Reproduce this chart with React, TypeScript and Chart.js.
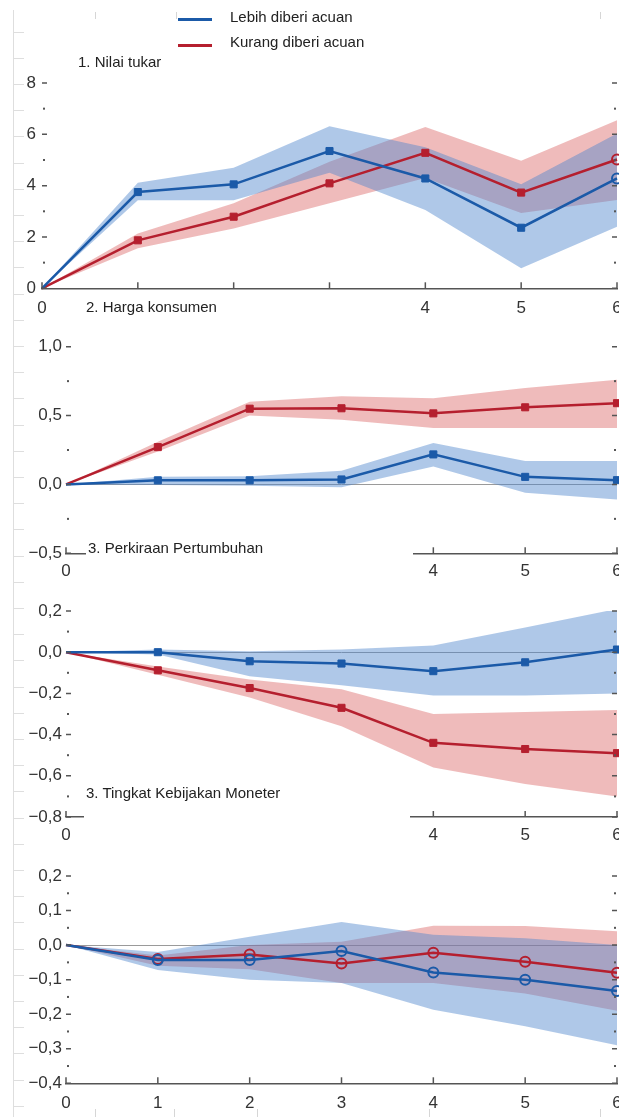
import React, { useEffect, useRef } from 'react';
import { Chart, registerables } from 'chart.js';

Chart.register(...registerables);

// ---------- data ----------
const steps = [0, 1, 2, 3, 4, 5, 6];

// 1. Nilai tukar
const nilaiLebih = [0, 3.75, 4.05, 5.35, 4.28, 2.36, 4.28];
const nilaiLebihHi = [0, 4.11, 4.7, 6.31, 5.5, 4.05, 6.03];
const nilaiLebihLo = [0, 3.43, 3.43, 4.5, 3.05, 0.78, 2.4];
const nilaiKurang = [0, 1.87, 2.79, 4.09, 5.28, 3.73, 5.02];
const nilaiKurangHi = [0, 2.14, 3.31, 4.93, 6.29, 4.97, 6.55];
const nilaiKurangLo = [0, 1.56, 2.33, 3.31, 4.3, 2.93, 3.44];

// 2. Harga konsumen
const hargaLebih = [0, 0.03, 0.03, 0.036, 0.218, 0.055, 0.031];
const hargaLebihHi = [0, 0.055, 0.06, 0.1, 0.3, 0.17, 0.17];
const hargaLebihLo = [0, -0.005, -0.01, -0.02, 0.13, -0.06, -0.11];
const hargaKurang = [0, 0.271, 0.55, 0.553, 0.516, 0.56, 0.59];
const hargaKurangHi = [0, 0.31, 0.6, 0.64, 0.625, 0.7, 0.76];
const hargaKurangLo = [0, 0.24, 0.5, 0.47, 0.41, 0.41, 0.41];

// 3. Perkiraan Pertumbuhan
const tumbuhLebih = [0, 0.0, -0.044, -0.055, -0.092, -0.049, 0.013];
const tumbuhLebihHi = [0, 0.013, 0.005, 0.013, 0.033, 0.12, 0.21];
const tumbuhLebihLo = [0, -0.011, -0.117, -0.16, -0.21, -0.21, -0.2];
const tumbuhKurang = [0, -0.088, -0.174, -0.27, -0.44, -0.47, -0.49];
const tumbuhKurangHi = [0, -0.07, -0.133, -0.18, -0.3, -0.29, -0.28];
const tumbuhKurangLo = [0, -0.11, -0.22, -0.36, -0.56, -0.64, -0.7];

// 3. Tingkat Kebijakan Moneter
const moneterLebih = [0, -0.043, -0.043, -0.017, -0.079, -0.1, -0.133];
const moneterLebihHi = [0, -0.02, 0.024, 0.067, 0.03, 0.02, 0.0];
const moneterLebihLo = [0, -0.072, -0.1, -0.11, -0.187, -0.235, -0.29];
const moneterKurang = [0, -0.04, -0.027, -0.053, -0.022, -0.048, -0.08];
const moneterKurangHi = [0, -0.03, 0.0, 0.01, 0.056, 0.055, 0.04];
const moneterKurangLo = [0, -0.06, -0.07, -0.11, -0.11, -0.14, -0.19];

// tick labels
const xLabelsPartial = ['0', '', '', '', '4', '5', '6'];
const xLabelsFull = ['0', '1', '2', '3', '4', '5', '6'];
const nilaiYTicks = [0, 2, 4, 6, 8];
const hargaYTicks = [-0.5, 0, 0.5, 1.0];
const tumbuhYTicks = [-0.8, -0.6, -0.4, -0.2, 0, 0.2];
const moneterYTicks = [-0.4, -0.3, -0.2, -0.1, 0, 0.1, 0.2];

// markers
const squaresEndCircle = ['none', 'rect', 'rect', 'rect', 'rect', 'rect', 'circle'];
const squaresOnly = ['none', 'rect', 'rect', 'rect', 'rect', 'rect', 'rect'];
const circlesOnly = ['none', 'circle', 'circle', 'circle', 'circle', 'circle', 'circle'];

const legendLabels = ['Lebih diberi acuan', 'Kurang diberi acuan'];
const panelTitles = ['1. Nilai tukar', '2. Harga konsumen', '3. Perkiraan Pertumbuhan', '3. Tingkat Kebijakan Moneter'];

// ---------- styles ----------
const BLUE = '#1b5aa8';
const RED = '#b51f2e';
const BLUE_BAND = 'rgba(78,132,204,0.45)';
const RED_BAND = 'rgba(218,92,92,0.42)';
const AXIS = '#555';
const FONT = "'Liberation Sans', Arial, sans-serif";
const CANVAS_W = 640;
const X_AXIS_H = 40;
const TICK_FONT = 17;

const fmtInt = (v: number) => String(Math.round(v));
const fmtDec = (v: number) => {
  const s = Math.abs(v).toFixed(1).replace('.', ',');
  return v < -1e-9 ? '\u2212' + s : s;
};

type Panel = {
  top: number; height: number; padTop: number; padBottom: number; yWidth: number; yPad: number; xPad: number;
  min: number; max: number; minor: number; majors: number[]; fmt: (v: number) => string;
  xLabels: string[]; zeroLine: boolean; markers: string[];
  lebih: number[]; lebihHi: number[]; lebihLo: number[];
  kurang: number[]; kurangHi: number[]; kurangLo: number[];
};

const panels: Panel[] = [
  { top: 0, height: 335, padTop: 83, padBottom: 6.7, yWidth: 42, yPad: 6, xPad: 2,
    min: 0, max: 8, minor: 1, majors: nilaiYTicks, fmt: fmtInt, xLabels: xLabelsPartial, zeroLine: false,
    markers: squaresEndCircle,
    lebih: nilaiLebih, lebihHi: nilaiLebihHi, lebihLo: nilaiLebihLo,
    kurang: nilaiKurang, kurangHi: nilaiKurangHi, kurangLo: nilaiKurangLo },
  { top: 310, height: 295, padTop: 36.7, padBottom: 11.7, yWidth: 66, yPad: 4, xPad: 0,
    min: -0.5, max: 1.0, minor: 0.25, majors: hargaYTicks, fmt: fmtDec, xLabels: xLabelsPartial, zeroLine: true,
    markers: squaresOnly,
    lebih: hargaLebih, lebihHi: hargaLebihHi, lebihLo: hargaLebihLo,
    kurang: hargaKurang, kurangHi: hargaKurangHi, kurangLo: hargaKurangLo },
  { top: 590, height: 270, padTop: 21, padBottom: 3, yWidth: 66, yPad: 4, xPad: 0,
    min: -0.8, max: 0.2, minor: 0.1, majors: tumbuhYTicks, fmt: fmtDec, xLabels: xLabelsPartial, zeroLine: true,
    markers: squaresOnly,
    lebih: tumbuhLebih, lebihHi: tumbuhLebihHi, lebihLo: tumbuhLebihLo,
    kurang: tumbuhKurang, kurangHi: tumbuhKurangHi, kurangLo: tumbuhKurangLo },
  { top: 850, height: 282, padTop: 26, padBottom: 8.7, yWidth: 66, yPad: 4, xPad: 2,
    min: -0.4, max: 0.2, minor: 0.05, majors: moneterYTicks, fmt: fmtDec, xLabels: xLabelsFull, zeroLine: true,
    markers: circlesOnly,
    lebih: moneterLebih, lebihHi: moneterLebihHi, lebihLo: moneterLebihLo,
    kurang: moneterKurang, kurangHi: moneterKurangHi, kurangLo: moneterKurangLo },
];

const pts = (vals: number[]) => steps.map((s, i) => ({ x: s, y: vals[i] }));

const inwardTicks = {
  id: 'inwardTicks',
  afterDatasetsDraw(chart: any) {
    const { ctx, chartArea: a, scales } = chart;
    const ys = scales.y;
    const xs = scales.x;
    ctx.save();
    ctx.strokeStyle = AXIS;
    ctx.fillStyle = AXIS;
    ys.ticks.forEach((t: any) => {
      const py = ys.getPixelForValue(t.value);
      if (t.label !== '' && t.label != null) {
        ctx.lineWidth = 1.5;
        ctx.beginPath();
        ctx.moveTo(a.left, py); ctx.lineTo(a.left + 5, py);
        ctx.moveTo(a.right, py); ctx.lineTo(a.right - 5, py);
        ctx.stroke();
      } else {
        ctx.fillRect(a.left + 1, py - 1, 2, 2);
        ctx.fillRect(a.right - 3, py - 1, 2, 2);
      }
    });
    xs.ticks.forEach((t: any) => {
      const px = xs.getPixelForValue(t.value);
      ctx.lineWidth = 1.5;
      ctx.beginPath();
      ctx.moveTo(px, a.bottom); ctx.lineTo(px, a.bottom - 6);
      ctx.stroke();
    });
    ctx.restore();
  },
};

function buildConfig(p: Panel): any {
  const seriesLine = (label: string, vals: number[], color: string) => ({
    label,
    data: pts(vals),
    borderColor: color,
    borderWidth: 2.5,
    fill: false,
    tension: 0,
    clip: false,
    pointStyle: p.markers.map((m) => (m === 'none' ? 'circle' : m)),
    pointRadius: p.markers.map((m) => (m === 'none' ? 0 : 5)),
    pointBorderWidth: p.markers.map((m) => (m === 'circle' ? 2 : 1)),
    pointBorderColor: color,
    pointBackgroundColor: p.markers.map((m) => (m === 'circle' ? 'rgba(255,255,255,0)' : color)),
  });
  const band = (vals: number[], color: string, fill: any) => ({
    data: pts(vals),
    borderWidth: 0,
    borderColor: 'rgba(0,0,0,0)',
    backgroundColor: color,
    pointRadius: 0,
    tension: 0,
    clip: false,
    fill,
  });
  return {
    type: 'line',
    data: {
      datasets: [
        seriesLine(legendLabels[0], p.lebih, BLUE),
        seriesLine(legendLabels[1], p.kurang, RED),
        band(p.lebihHi, BLUE_BAND, '+1'),
        band(p.lebihLo, BLUE_BAND, false),
        band(p.kurangHi, RED_BAND, '+1'),
        band(p.kurangLo, RED_BAND, false),
      ],
    },
    options: {
      responsive: false,
      animation: false,
      events: [],
      layout: { padding: { left: 0, right: CANVAS_W - 617, top: p.padTop, bottom: p.padBottom } },
      plugins: { legend: { display: false }, tooltip: { enabled: false } },
      scales: {
        x: {
          type: 'linear',
          min: 0,
          max: 6,
          afterFit: (s: any) => { s.height = X_AXIS_H; },
          grid: { display: false },
          border: { display: true, color: AXIS, width: 1.5 },
          ticks: {
            stepSize: 1,
            autoSkip: false,
            maxRotation: 0,
            padding: p.xPad,
            color: '#333',
            font: { family: FONT, size: TICK_FONT },
            callback: (v: number) => p.xLabels[Math.round(v)] ?? '',
          },
        },
        y: {
          type: 'linear',
          min: p.min,
          max: p.max,
          afterFit: (s: any) => { s.width = p.yWidth; },
          border: { display: false },
          grid: {
            drawTicks: false,
            lineWidth: 1,
            color: (c: any) => (p.zeroLine && c.tick && Math.abs(c.tick.value) < 1e-9 ? '#9a9a9a' : 'rgba(0,0,0,0)'),
          },
          ticks: {
            stepSize: p.minor,
            autoSkip: false,
            padding: p.yPad,
            color: '#333',
            font: { family: FONT, size: TICK_FONT },
            callback: (v: number) => {
              const m = p.majors.find((t) => Math.abs(t - v) < 1e-6);
              return m === undefined ? '' : p.fmt(m);
            },
          },
        },
      },
    },
    plugins: [inwardTicks],
  };
}

function PanelChart({ p }: { p: Panel }) {
  const ref = useRef<HTMLCanvasElement | null>(null);
  useEffect(() => {
    if (!ref.current) return;
    const chart = new Chart(ref.current, buildConfig(p));
    return () => chart.destroy();
  }, [p]);
  return (
    <canvas
      ref={ref}
      width={CANVAS_W}
      height={p.height}
      style={{ position: 'absolute', left: 0, top: p.top, width: CANVAS_W, height: p.height }}
    />
  );
}

const textStyle: React.CSSProperties = {
  position: 'absolute',
  fontFamily: FONT,
  fontSize: 15,
  lineHeight: '16px',
  color: '#222',
  whiteSpace: 'nowrap',
};

const rulerTicks = Array.from({ length: 42 }, (_, k) => 31.5 + 26.2 * k);
const topMarks = [95, 176, 600];
const bottomMarks = [95, 174, 257, 429, 600];

export default function App() {
  return (
    <div style={{ position: 'fixed', left: 0, top: 0, width: 619, height: 1117, overflow: 'hidden', background: '#fff' }}>
      {/* faint background ruler */}
      <div style={{ position: 'absolute', left: 13, top: 10, width: 1, height: 1107, background: '#dedede' }} />
      {rulerTicks.map((y, i) => (
        <div key={'r' + i} style={{ position: 'absolute', left: 13, top: y, width: 11, height: 1, background: '#dedede' }} />
      ))}
      {topMarks.map((x, i) => (
        <div key={'t' + i} style={{ position: 'absolute', left: x, top: 12, width: 1, height: 7, background: '#d6d6d6' }} />
      ))}
      {bottomMarks.map((x, i) => (
        <div key={'b' + i} style={{ position: 'absolute', left: x, top: 1109, width: 1, height: 8, background: '#d6d6d6' }} />
      ))}

      {panels.map((p, i) => (
        <PanelChart key={i} p={p} />
      ))}

      {/* legend */}
      <div style={{ position: 'absolute', left: 178, top: 18, width: 34, height: 2.5, background: BLUE }} />
      <div style={{ position: 'absolute', left: 178, top: 44, width: 34, height: 2.5, background: RED }} />
      <div style={{ ...textStyle, left: 230, top: 9 }}>{legendLabels[0]}</div>
      <div style={{ ...textStyle, left: 230, top: 34 }}>{legendLabels[1]}</div>

      {/* panel titles */}
      <div style={{ ...textStyle, left: 78, top: 54 }}>{panelTitles[0]}</div>
      <div style={{ ...textStyle, left: 86, top: 299 }}>{panelTitles[1]}</div>
      <div style={{ ...textStyle, left: 86, top: 540, width: 327, height: 18, background: '#fff', paddingLeft: 2, boxSizing: 'border-box' }}>
        {panelTitles[2]}
      </div>
      <div style={{ position: 'absolute', left: 84, top: 810, width: 326, height: 13, background: '#fff' }} />
      <div style={{ ...textStyle, left: 86, top: 785 }}>{panelTitles[3]}</div>
    </div>
  );
}
